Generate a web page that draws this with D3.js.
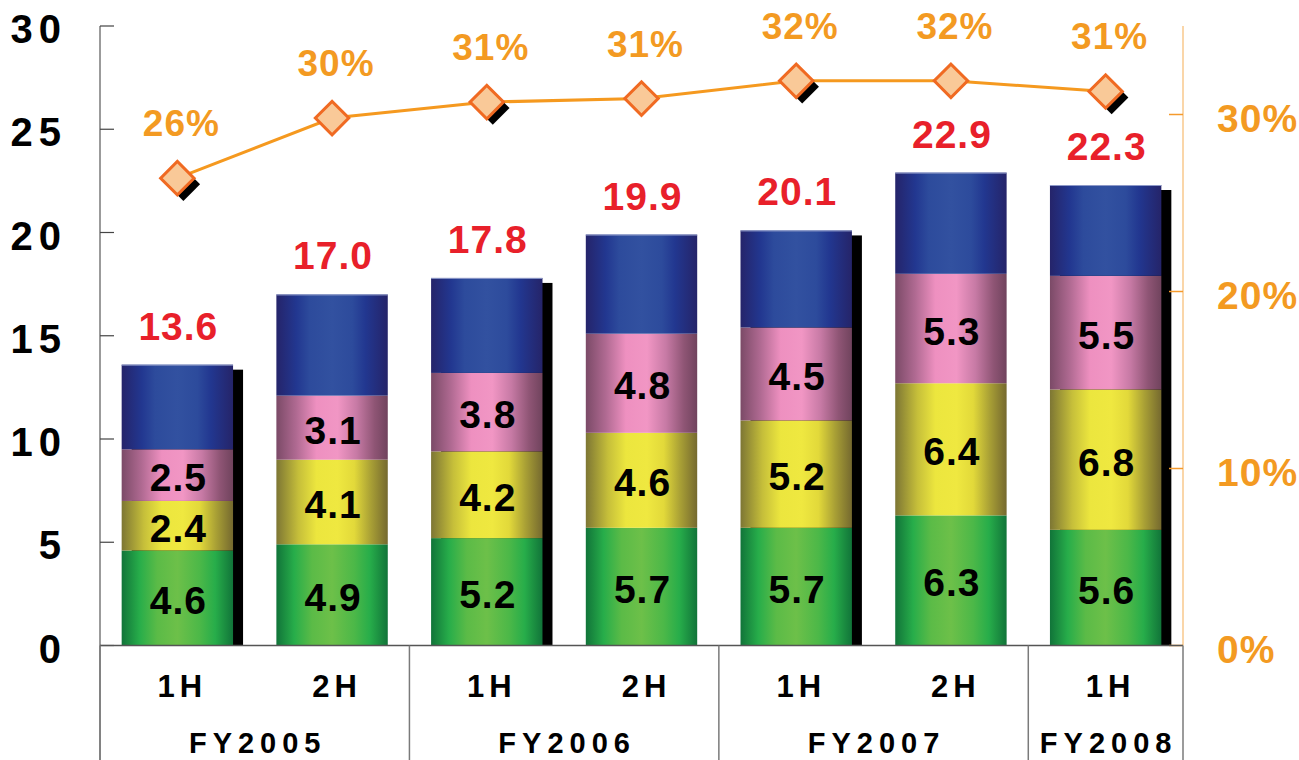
<!DOCTYPE html>
<html>
<head>
<meta charset="utf-8">
<script src="https://cdn.jsdelivr.net/npm/d3@7/dist/d3.min.js"></script>
<style>
  html, body { margin: 0; padding: 0; background: #fff; }
  svg { display: block; }
  text { font-family: "Liberation Sans", Arial, sans-serif; font-weight: 700; }
</style>
</head>
<body>
<svg id="chart" width="1299" height="760"></svg>
<script>
// Half-year periods and their fiscal years
const periods = ["1H", "2H", "1H", "2H", "1H", "2H", "1H"];
const fiscalYears = ["FY2005", "FY2005", "FY2006", "FY2006", "FY2007", "FY2007", "FY2008"];

// Stacked segments, bottom to top
const greenValues  = [4.6, 4.9, 5.2, 5.7, 5.7, 6.3, 5.6];
const yellowValues = [2.4, 4.1, 4.2, 4.6, 5.2, 6.4, 6.8];
const pinkValues   = [2.5, 3.1, 3.8, 4.8, 4.5, 5.3, 5.5];
const blueValues   = [4.1, 4.9, 4.6, 4.8, 4.7, 4.9, 4.4];

// Totals shown above each bar
const totals = [13.6, 17.0, 17.8, 19.9, 20.1, 22.9, 22.3];

// Ratio line (%), right axis
const ratioValues = [26.4, 29.8, 30.7, 30.9, 31.9, 31.9, 31.3];

// Axis ticks
const leftTicks = [0, 5, 10, 15, 20, 25, 30];
const rightTicks = [0, 10, 20, 30];

// Bars and markers that carry a drop shadow
const shadowed = [true, false, true, false, true, false, true];

const svg = d3.select("#chart");
const W = 1299, H = 760;
const plotLeft = 100, plotRight = 1183, plotTop = 26, base = 645.5;

const x = d3.scaleBand().domain(d3.range(periods.length))
  .range([plotLeft, plotRight]).paddingInner(0.28).paddingOuter(0.14);
const step = x.step();
const y = d3.scaleLinear().domain([0, 30]).range([base, plotTop]);
const y2 = d3.scaleLinear().domain([0, 35]).range([base, plotTop]);

// Horizontal gradients giving the bars a cylindrical look
const defs = svg.append("defs");
const gradients = {
  green:  [[0, "#117439"], [0.16, "#27ad4a"], [0.32, "#5bbb47"], [0.5, "#6dc049"], [0.7, "#4cb848"], [0.84, "#27ad4a"], [1, "#117439"]],
  yellow: [[0, "#7d7634"], [0.2, "#c6bf3a"], [0.36, "#ece63e"], [0.55, "#efe840"], [0.7, "#e2d93a"], [0.85, "#a89f35"], [1, "#75692f"]],
  pink:   [[0, "#7b4a67"], [0.18, "#b06a92"], [0.36, "#ee90c0"], [0.55, "#f196c4"], [0.72, "#c77aa5"], [0.88, "#8f5575"], [1, "#70435d"]],
  blue:   [[0, "#25246a"], [0.18, "#223790"], [0.3, "#2d4b9c"], [0.5, "#3251a0"], [0.68, "#2d4b9c"], [0.8, "#223790"], [1, "#252469"]]
};
Object.entries(gradients).forEach(([key, stops]) => {
  const g = defs.append("linearGradient").attr("id", "grad-" + key)
    .attr("x1", "0%").attr("x2", "100%").attr("y1", "0%").attr("y2", "0%");
  stops.forEach(([o, c]) => g.append("stop").attr("offset", o).attr("stop-color", c));
});

const layers = [
  { key: "green",  values: greenValues,  label: true },
  { key: "yellow", values: yellowValues, label: true },
  { key: "pink",   values: pinkValues,   label: true },
  { key: "blue",   values: blueValues,   label: false }
];

// Stack layout
const rows = periods.map((p, i) => {
  const r = { i };
  layers.forEach(l => r[l.key] = l.values[i]);
  return r;
});
const stack = d3.stack().keys(layers.map(l => l.key))(rows);

// Bar shadows (offset black block behind the bar)
svg.append("g").selectAll("rect")
  .data(totals.map((t, i) => ({ t, i })).filter(d => shadowed[d.i]))
  .join("rect")
  .attr("x", d => x(d.i) + 10)
  .attr("y", d => y(d.t) + 5)
  .attr("width", x.bandwidth())
  .attr("height", d => base - y(d.t) - 5)
  .attr("fill", "#000");

// Bar segments
const segG = svg.append("g");
stack.forEach(series => {
  segG.append("g").selectAll("rect")
    .data(series)
    .join("rect")
    .attr("x", (d, i) => x(i))
    .attr("y", d => y(d[1]))
    .attr("width", x.bandwidth())
    .attr("height", d => y(d[0]) - y(d[1]))
    .attr("fill", `url(#grad-${series.key})`);
});

// Thin highlight at the top of each bar
svg.append("g").selectAll("line")
  .data(totals)
  .join("line")
  .attr("x1", (d, i) => x(i)).attr("x2", (d, i) => x(i) + x.bandwidth())
  .attr("y1", d => y(d) + 0.5).attr("y2", d => y(d) + 0.5)
  .attr("stroke", "#8d99c8").attr("stroke-width", 1);

// Segment value labels
stack.forEach((series, si) => {
  if (!layers[si].label) return;
  svg.append("g").selectAll("text")
    .data(series)
    .join("text")
    .attr("x", (d, i) => x(i) + x.bandwidth() / 2 + 1)
    .attr("y", d => (y(d[0]) + y(d[1])) / 2 + 16)
    .attr("text-anchor", "middle")
    .attr("font-size", 39)
    .attr("letter-spacing", 1)
    .attr("fill", "#000")
    .text(d => d3.format(".1f")(d[1] - d[0]));
});

// Totals above bars
svg.append("g").selectAll("text")
  .data(totals)
  .join("text")
  .attr("x", (d, i) => x(i) + x.bandwidth() / 2 + 1)
  .attr("y", d => y(d) - 25)
  .attr("text-anchor", "middle")
  .attr("font-size", 39)
  .attr("letter-spacing", 1)
  .attr("fill", "#e8202a")
  .text(d => d3.format(".1f")(d));

// Left axis
const axisL = svg.append("g");
axisL.append("line").attr("x1", plotLeft).attr("x2", plotLeft).attr("y1", plotTop).attr("y2", H)
  .attr("stroke", "#7a7a7a").attr("stroke-width", 1.5);
axisL.selectAll("line.tick").data(leftTicks).join("line").attr("class", "tick")
  .attr("x1", plotLeft).attr("x2", plotLeft + 14)
  .attr("y1", d => y(d)).attr("y2", d => y(d))
  .attr("stroke", "#444").attr("stroke-width", 1.2);
axisL.selectAll("text").data(leftTicks).join("text")
  .attr("x", 67).attr("y", d => y(d) + 17)
  .attr("text-anchor", "end")
  .attr("font-size", 40)
  .attr("letter-spacing", 6)
  .attr("fill", "#000")
  .text(d => d);

// Right axis
const axisR = svg.append("g");
axisR.append("line").attr("x1", plotRight).attr("x2", plotRight).attr("y1", plotTop).attr("y2", base)
  .attr("stroke", "#f8c88c").attr("stroke-width", 1.5);
axisR.selectAll("line.tick").data(rightTicks).join("line").attr("class", "tick")
  .attr("x1", plotRight - 14).attr("x2", plotRight)
  .attr("y1", d => y2(d)).attr("y2", d => y2(d))
  .attr("stroke", "#f49a2c").attr("stroke-width", 1.5);
axisR.selectAll("text").data(rightTicks).join("text")
  .attr("x", 1217).attr("y", d => y2(d) + 17)
  .attr("font-size", 39)
  .attr("letter-spacing", 1)
  .attr("fill", "#f39a22")
  .text(d => d + "%");

// Baseline and category separators
svg.append("line").attr("x1", plotLeft).attr("x2", plotRight).attr("y1", base).attr("y2", base)
  .attr("stroke", "#555").attr("stroke-width", 1.5);
const groups = d3.groups(fiscalYears.map((f, i) => ({ f, i })), d => d.f)
  .map(([name, items]) => ({ name, start: items[0].i, end: items[items.length - 1].i }));
const sepX = [plotLeft].concat(groups.map(g => plotLeft + (g.end + 1) * step));
svg.append("g").selectAll("line").data(sepX).join("line")
  .attr("x1", d => d).attr("x2", d => d).attr("y1", base).attr("y2", H)
  .attr("stroke", "#7a7a7a").attr("stroke-width", 1.5);

// Period labels
svg.append("g").selectAll("text").data(periods).join("text")
  .attr("x", (d, i) => x(i) + x.bandwidth() / 2 + 5)
  .attr("y", 697)
  .attr("text-anchor", "middle")
  .attr("font-size", 31)
  .attr("letter-spacing", 5)
  .attr("fill", "#000")
  .text(d => d);

// Fiscal year labels
svg.append("g").selectAll("text").data(groups).join("text")
  .attr("x", d => plotLeft + (d.start + d.end + 1) / 2 * step + 3)
  .attr("y", 752.5)
  .attr("text-anchor", "middle")
  .attr("font-size", 29)
  .attr("letter-spacing", 6)
  .attr("fill", "#000")
  .text(d => d.name);

// Ratio line
const cx = i => x(i) + x.bandwidth() / 2;
svg.append("path")
  .datum(ratioValues)
  .attr("d", d3.line().x((d, i) => cx(i)).y(d => y2(d)))
  .attr("fill", "none")
  .attr("stroke", "#f5991f")
  .attr("stroke-width", 3);

// Marker shadows and diamond markers
const diamond = d3.symbol().type(d3.symbolSquare).size(560);
svg.append("g").selectAll("path")
  .data(ratioValues.map((v, i) => ({ v, i })).filter(d => shadowed[d.i]))
  .join("path")
  .attr("d", diamond)
  .attr("transform", d => `translate(${cx(d.i) + 6},${y2(d.v) + 6}) rotate(45)`)
  .attr("fill", "#000");
svg.append("g").selectAll("path")
  .data(ratioValues)
  .join("path")
  .attr("d", diamond)
  .attr("transform", (d, i) => `translate(${cx(i)},${y2(d)}) rotate(45)`)
  .attr("fill", "#f9c998")
  .attr("stroke", "#f06a22")
  .attr("stroke-width", 3);

// Ratio labels
svg.append("g").selectAll("text")
  .data(ratioValues)
  .join("text")
  .attr("x", (d, i) => cx(i) + 4)
  .attr("y", d => y2(d) - 42)
  .attr("text-anchor", "middle")
  .attr("font-size", 37)
  .attr("letter-spacing", 1)
  .attr("fill", "#f39a22")
  .text(d => d3.format(".0f")(d) + "%");
</script>
</body>
</html>
